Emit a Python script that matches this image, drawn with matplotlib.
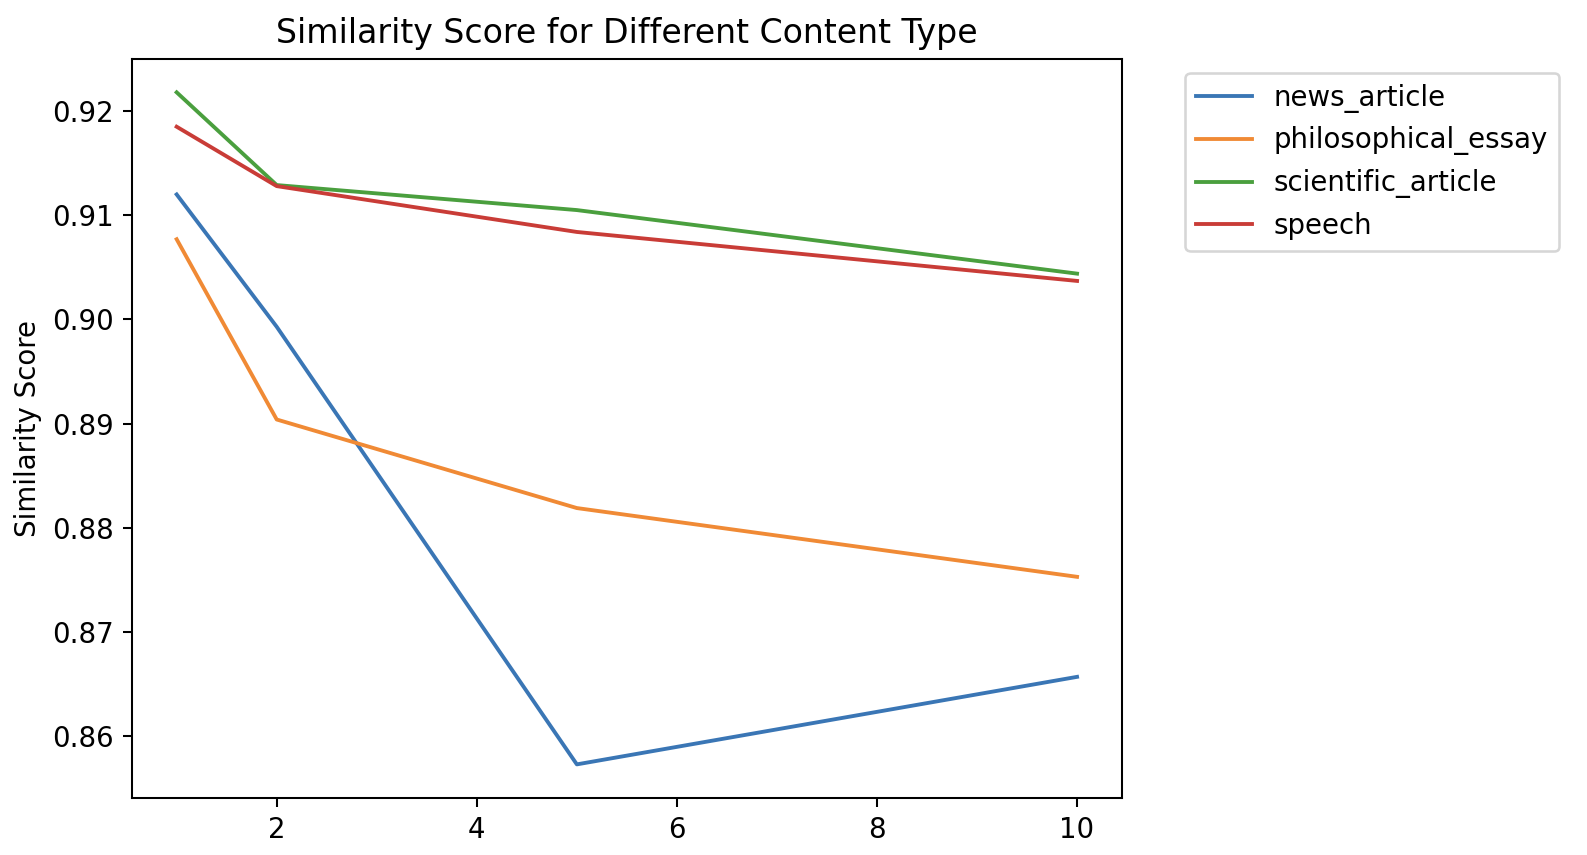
import matplotlib
matplotlib.use("Agg")
import matplotlib.pyplot as plt

x_values = [1, 2, 5, 10]
news_article = [0.9120, 0.8993, 0.8573, 0.8657]
philosophical_essay = [0.9077, 0.8904, 0.8819, 0.8753]
scientific_article = [0.9218, 0.9129, 0.9105, 0.9044]
speech = [0.9185, 0.9128, 0.9084, 0.9037]

series = {
    "news_article": news_article,
    "philosophical_essay": philosophical_essay,
    "scientific_article": scientific_article,
    "speech": speech,
}
colors = ["#3a76b5", "#f08a35", "#4a9f3e", "#c93c37"]

plt.rcParams["font.size"] = 10.75
DPI = 185
fig = plt.figure(figsize=(1588 / DPI, 855 / DPI), dpi=DPI)
ax = fig.add_axes([0.0829, 0.0667, 0.7066 - 0.0829, 0.9313 - 0.0667])
for (name, vals), c in zip(series.items(), colors):
    ax.plot(x_values, vals, label=name, color=c)
ax.set_title("Similarity Score for Different Content Type", fontsize=12.9)
ax.set_ylabel("Similarity Score")
ax.set_xticks([2, 4, 6, 8, 10])
ax.legend(loc="upper left", bbox_to_anchor=(1.05, 1))
fig.savefig("out.png", dpi=DPI)
